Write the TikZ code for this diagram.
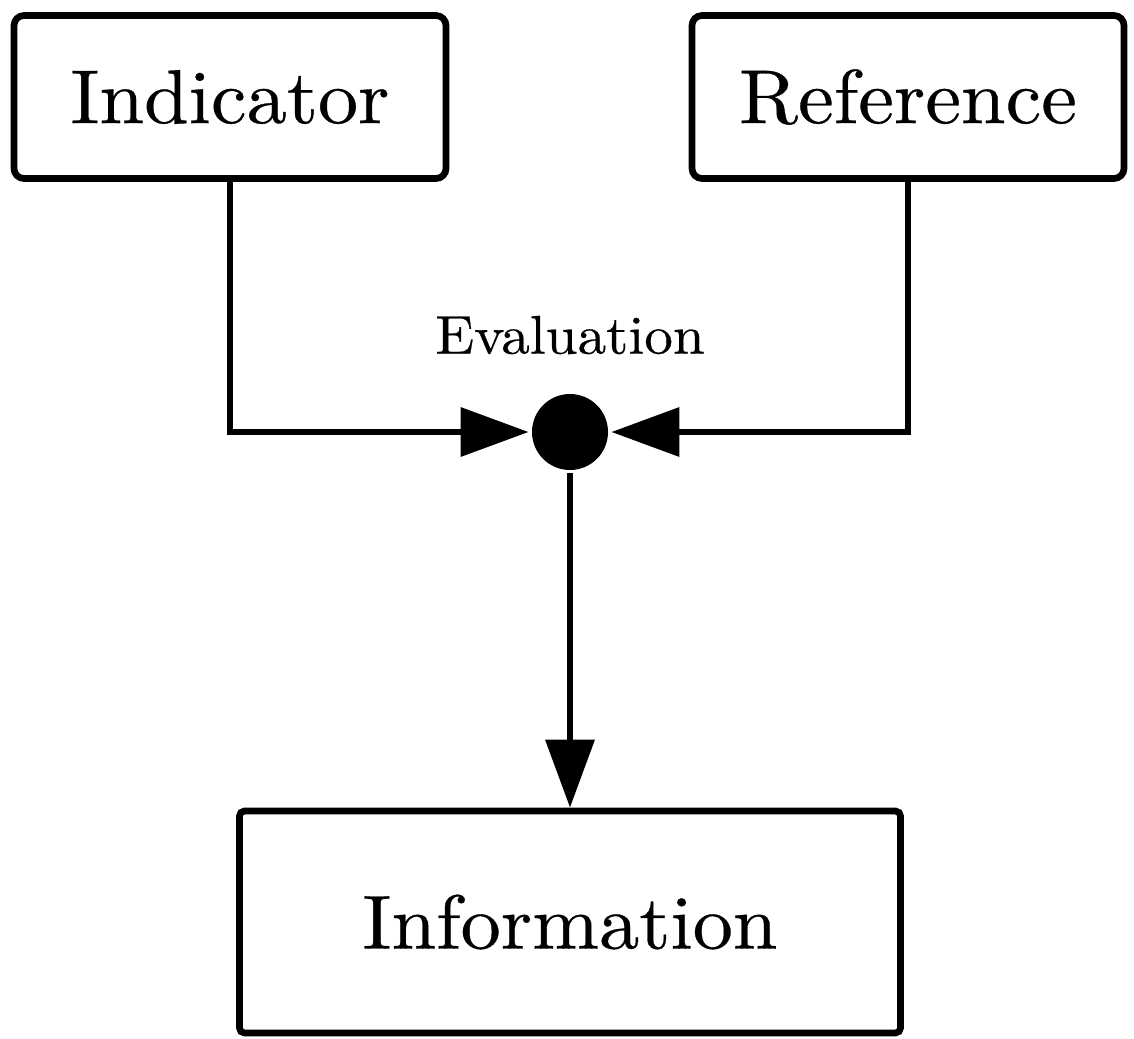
\documentclass[tikz,border=0pt]{standalone}
\usepackage{fontspec}
\newfontfamily\diagfont[FakeStretch=1.05,FakeBold=0.4]{lmroman10-regular.otf}
\usepackage{tikz}
\usetikzlibrary{arrows.meta}
\tikzset{%
  >={Triangle[width=0.96cm,length=1.36cm]},
  % Specifications for style of nodes:
         boxbase/.style = {rectangle, rounded corners=0.2cm, draw=black,
                           line width=3.8pt, minimum width=8.64cm,
                           minimum height=3.26cm, text centered,
                           font=\diagfont\fontsize{43.5}{48}\selectfont},
         infobox/.style = {boxbase, rounded corners=0.1cm,
                           minimum width=13.22cm, minimum height=4.44cm},
        junction/.style = {circle, fill=black, inner sep=0pt,
                           minimum size=1.52cm},
       smalltext/.style = {font=\diagfont\fontsize{31}{34}\selectfont},
}

\begin{document}
\begin{tikzpicture}[node distance=9.8cm, line width=3.8pt]
  \useasboundingbox (0,0) rectangle (22.68,-20.78);
  % Specification of nodes (position, etc.)
  \node (indicator)  [boxbase] at (4.6,-1.94)                    {Indicator};
  \node (reference)  [boxbase, right of=indicator, node distance=13.56cm] {Reference};
  \node (eval)       [junction] at (11.4,-8.64)                   {};
  \node (evaltext)   [smalltext, above of=eval, node distance=1.94cm] {Evaluation};
  \node (information) [infobox, below of=eval]                   {Information};
  % Specification of lines between nodes specified above
  \draw[->]  (indicator.south) |- (eval);
  \draw[->]  (reference.south) |- (eval);
  \draw[->]  (eval) -- (information);
\end{tikzpicture}
\end{document}
